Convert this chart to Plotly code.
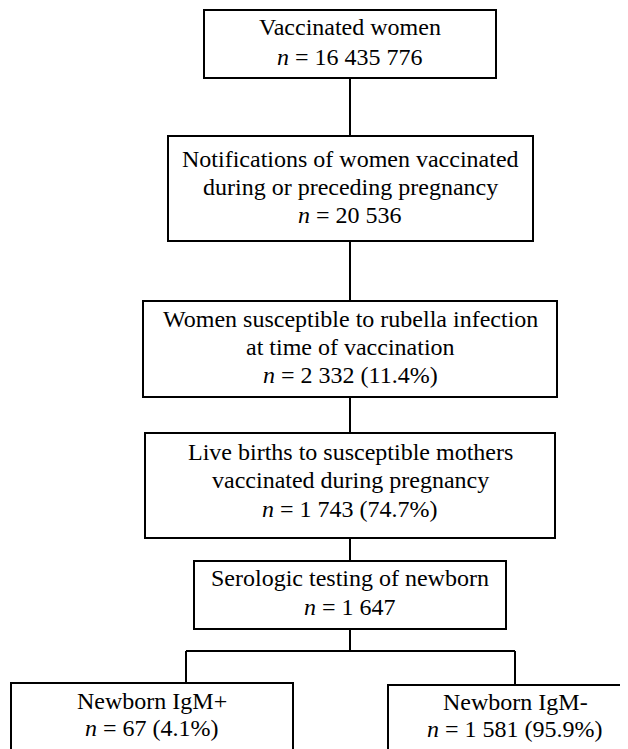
import plotly.graph_objects as go

# ---- data ----
stage_titles = [
    ["Vaccinated women"],
    ["Notifications of women vaccinated", "during or preceding pregnancy"],
    ["Women susceptible to rubella infection", "at time of vaccination"],
    ["Live births to susceptible mothers", "vaccinated during pregnancy"],
    ["Serologic testing of newborn"],
    ["Newborn IgM+"],
    ["Newborn IgM-"],
]
stage_counts = ["16 435 776", "20 536", "2 332", "1 743", "1 647", "67", "1 581"]
stage_percents = [None, None, "11.4%", "74.7%", None, "4.1%", "95.9%"]

# ---- layout (pixel-space positions, page coordinates) ----
# box: (x0, x1, y0, y1)
boxes = [
    (204, 496, 10, 78),
    (168, 533, 136, 241),
    (143, 557, 301, 397),
    (145, 555, 433, 538),
    (194, 506, 561, 629),
    (11, 293, 683, 770),
    (388, 642, 685, 770),
]
line_y = [
    [27, 57],
    [159, 187, 215],
    [319, 347, 375],
    [452, 480, 509],
    [578, 607],
    [701, 728],
    [702, 729],
]
text_x = [350, 350, 350, 350, 350, 152, 515]
cx_main = 350

# page body has an 8px margin; map data coords directly to page pixels
OFF = 8
W, H = 628, 749

fig = go.Figure()
fig.add_trace(go.Scatter(x=[OFF, W], y=[OFF, H], mode="markers",
                         marker=dict(opacity=0), hoverinfo="skip", showlegend=False))

LW = 2
shapes = []
for (x0, x1, y0, y1) in boxes:
    shapes.append(dict(type="rect", x0=x0, x1=x1, y0=y0, y1=y1,
                       line=dict(color="black", width=LW), fillcolor="white", layer="above"))

for i in range(4):
    shapes.append(dict(type="line", x0=cx_main, x1=cx_main, y0=boxes[i][3], y1=boxes[i + 1][2],
                       line=dict(color="black", width=LW)))
branch_y = 651
lx, rx = 186, 515
shapes.append(dict(type="line", x0=cx_main, x1=cx_main, y0=boxes[4][3], y1=branch_y,
                   line=dict(color="black", width=LW)))
shapes.append(dict(type="line", x0=lx, x1=rx, y0=branch_y, y1=branch_y,
                   line=dict(color="black", width=LW)))
shapes.append(dict(type="line", x0=lx, x1=lx, y0=branch_y, y1=boxes[5][2],
                   line=dict(color="black", width=LW)))
shapes.append(dict(type="line", x0=rx, x1=rx, y0=branch_y, y1=boxes[6][2],
                   line=dict(color="black", width=LW)))

annotations = []
font = dict(family="Liberation Serif, Times New Roman, serif", size=24, color="black")
for i, (titles, cnt, pct) in enumerate(zip(stage_titles, stage_counts, stage_percents)):
    lines = list(titles)
    lines.append("<i>n</i> = " + cnt + (f" ({pct})" if pct else ""))
    for j, t in enumerate(lines):
        annotations.append(dict(x=text_x[i], y=line_y[i][j], text=t,
                                showarrow=False, xanchor="center", yanchor="middle",
                                font=font))

fig.update_layout(
    width=W - OFF, height=H - OFF,
    margin=dict(l=0, r=0, t=0, b=0),
    paper_bgcolor="white", plot_bgcolor="white",
    xaxis=dict(range=[OFF, W], visible=False, fixedrange=True),
    yaxis=dict(range=[H, OFF], visible=False, fixedrange=True),
    shapes=shapes, annotations=annotations, showlegend=False,
)
fig.write_html("out.html")
